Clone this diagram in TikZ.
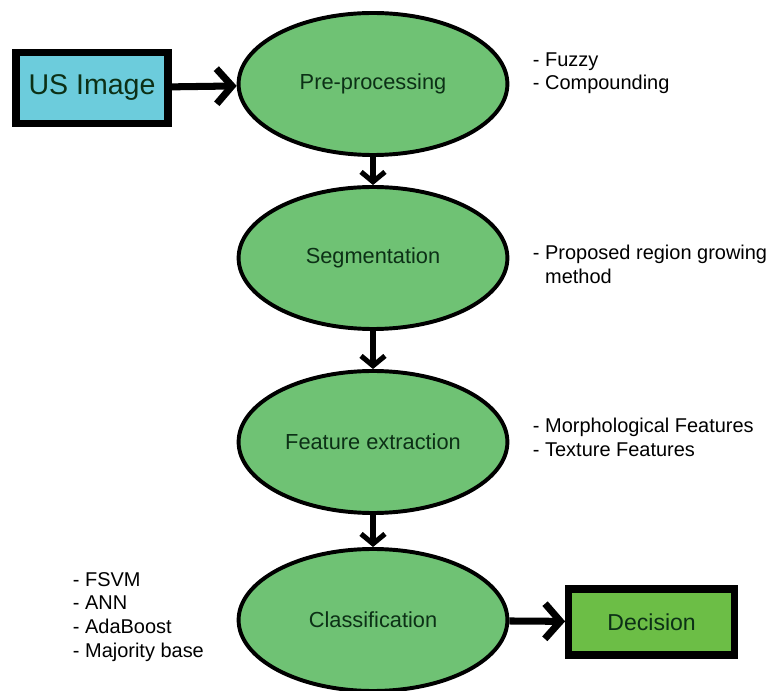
\documentclass[tikz,border=0pt]{standalone}
\usepackage{fontspec}
\setmainfont{Liberation Sans}
\usetikzlibrary{shapes.geometric,arrows.meta}

\definecolor{stagegreen}{RGB}{111,194,116}
\definecolor{inputcyan}{RGB}{108,204,220}
\definecolor{outputgreen}{RGB}{108,190,70}
\definecolor{labeldark}{RGB}{12,48,22}

\tikzset{
    stage/.style={draw, ellipse, line width=2.8pt, fill=stagegreen, text=labeldark,
        minimum width=6.72cm, minimum height=3.55cm, font=\fontsize{15.5}{18}\selectfont},
    endbox/.style={draw, line width=5pt, text=labeldark},
    sidenote/.style={anchor=west, align=left, font=\fontsize{14.2}{17}\selectfont},
    flow/.style={line width=3.6pt, -{Straight Barb[length=7pt,width=17pt]}},
    bigflow/.style={line width=5pt, -{Straight Barb[length=11pt,width=25pt]}},
}

\begin{document}
\begin{tikzpicture}
    \useasboundingbox (0,0) rectangle (19.275,-17.275);

    % input and output boxes
    \node[endbox, fill=inputcyan, minimum width=3.8cm, minimum height=1.78cm,
        font=\fontsize{20.3}{24}\selectfont] (us) at (2.3,-2.2) {US Image};
    \node[endbox, fill=outputgreen, minimum width=4.15cm, minimum height=1.65cm,
        font=\fontsize{16.4}{20}\selectfont] (dec) at (16.29,-15.55) {Decision};

    % main stages
    \node[stage] (pre) at (9.325,-2.1) {Pre-processing};
    \node[stage] (seg) at (9.325,-6.45) {Segmentation};
    \node[stage] (feat) at (9.325,-11.05) {Feature extraction};
    \node[stage] (cls) at (9.325,-15.5) {Classification};

    \draw[bigflow] (us) -- (pre);
    \draw[flow] (pre) -- (seg);
    \draw[flow] (seg) -- (feat);
    \draw[flow] (feat) -- (cls);
    \draw[bigflow] (cls) -- (dec);

    % methods used at each stage
    \node[sidenote] (preN) at (13.2,-1.83) {- Fuzzy\\- Compounding};
    \node[sidenote] (segN) at (13.2,-6.6) {- Proposed region growing\\\phantom{- }method};
    \node[sidenote] (featN) at (13.2,-10.925) {- Morphological Features\\- Texture Features};
    \node[sidenote] (clsN) at (1.7,-15.425) {- FSVM\\- ANN\\- AdaBoost\\- Majority base};
\end{tikzpicture}
\end{document}
